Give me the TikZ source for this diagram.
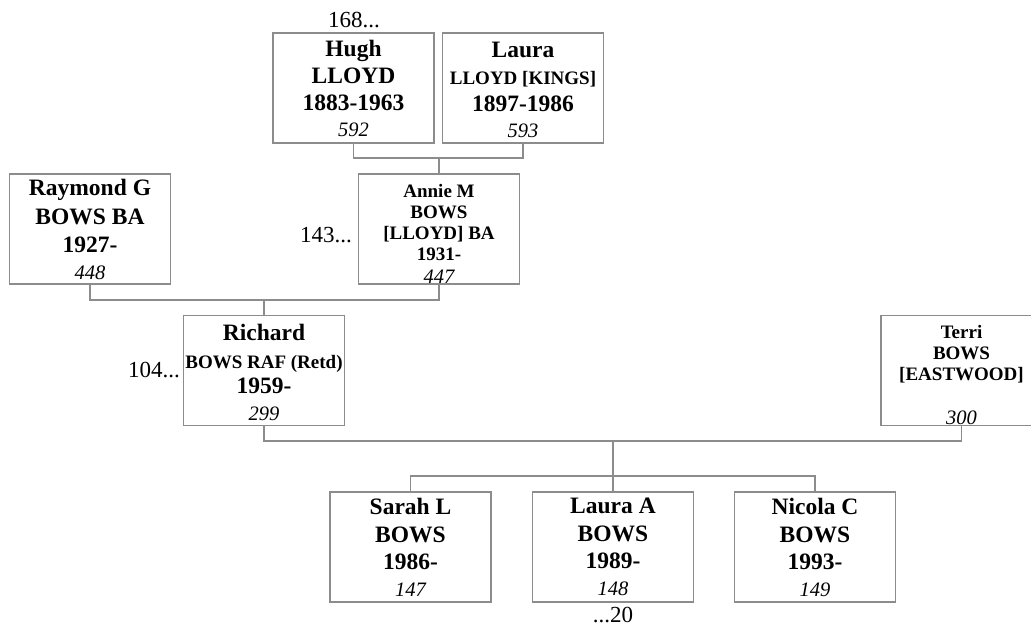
\documentclass[tikz,border=0pt]{standalone}
\usepackage{fontspec}
\setmainfont{Liberation Serif}
\usepackage{tikz}
\usetikzlibrary{positioning}
\definecolor{boxgray}{RGB}{140,140,140}
\definecolor{linkgray}{RGB}{140,140,140}

% line fonts inside the person boxes
\newcommand{\nmbig}{\fontsize{23.5}{21}\selectfont\bfseries}
\newcommand{\nmsmall}{\fontsize{19}{21}\selectfont\bfseries}
\newcommand{\refno}[1]{{\fontsize{20.5}{21}\selectfont\itshape #1}}

\begin{document}
\begin{tikzpicture}[
  x=1pt, y=1pt,
  person/.style={rectangle, draw=boxgray, line width=1.1pt,
                 minimum width=161pt, minimum height=110pt,
                 inner sep=1pt, align=center,
                 font=\fontsize{19}{21}\selectfont},
  link/.style={draw=linkgray, line width=1.1pt},
  more/.style={font=\fontsize{23}{26}\selectfont, inner sep=0pt}
]
\useasboundingbox (0,0) rectangle (1031,-627);
\clip (0,0) rectangle (1031,-627);

% grandparents
\node[person] (hugh)    at (353.5,-88)  {{\nmbig Hugh}\\[6pt]{\nmbig LLOYD}\\[6pt]{\nmbig 1883-1963}\\[5pt]\refno{592}};
\node[person] (laura)   at (523,-88)    {{\nmbig\rule{0pt}{19pt}Laura}\\[6pt]{\nmsmall LLOYD [KINGS]}\\[6pt]{\nmbig 1897-1986}\\[5pt]\refno{593}};

% parents
\node[person] (raymond) at (90,-229)    {{\nmbig Raymond G}\\[8pt]{\nmbig BOWS BA}\\[7pt]{\nmbig 1927-}\\[6pt]\refno{448}};
\node[person] (annie)   at (439,-229)   {{\nmsmall\rule{0pt}{22pt}Annie M}\\{\nmsmall BOWS}\\{\nmsmall [LLOYD] BA}\\{\nmsmall 1931-}\\[2pt]\refno{447}};

% couple
\node[person] (richard) at (264,-370.5) {{\nmbig\rule{0pt}{21pt}Richard}\\[7pt]{\nmsmall BOWS RAF (Retd)}\\[4pt]{\nmbig 1959-}\\[6pt]\refno{299}};
\node[person] (terri)   at (961.5,-370.5) {{\nmsmall\rule{0pt}{22pt}Terri}\\{\nmsmall BOWS}\\{\nmsmall{}[EASTWOOD]}\\[23pt]\refno{300}};

% children
\node[person] (sarah)   at (410.5,-547) {{\nmbig Sarah L}\\[7pt]{\nmbig BOWS}\\[6pt]{\nmbig 1986-}\\[6pt]\refno{147}};
\node[person] (lauraa)  at (613,-547)   {{\nmbig Laura A}\\[7pt]{\nmbig BOWS}\\[6pt]{\nmbig 1989-}\\[6pt]\refno{148}};
\node[person] (nicola)  at (815,-547)   {{\nmbig Nicola C}\\[7pt]{\nmbig BOWS}\\[6pt]{\nmbig 1993-}\\[6pt]\refno{149}};

% continuation references
\node[more] (hughmore)    at (354,-20)            {168...};
\node[more, anchor=east] (anniemore)   at (352,-235)  {143...};
\node[more, anchor=east] (richardmore) at (180,-370)  {104...};
\node[more] (lauraamore)  at (613,-615)           {...20};

% marriages and descent
\coordinate (u1)  at (439,-158);
\coordinate (u2)  at (264,-300);
\coordinate (u3)  at (613,-441);
\coordinate (sib) at (613,-476);

\draw[link] (hugh.south) |- (u1) -| (laura.south);
\draw[link] (u1) -- (annie.north);
\draw[link] (raymond.south) |- (u2) -| (annie.south);
\draw[link] (u2) -- (richard.north);
\draw[link] (richard.south) |- (u3) -| (terri.south);
\draw[link] (u3) -- (sib);
\draw[link] (sarah.north) |- (sib) -| (nicola.north);
\draw[link] (sib) -- (lauraa.north);

\end{tikzpicture}
\end{document}
